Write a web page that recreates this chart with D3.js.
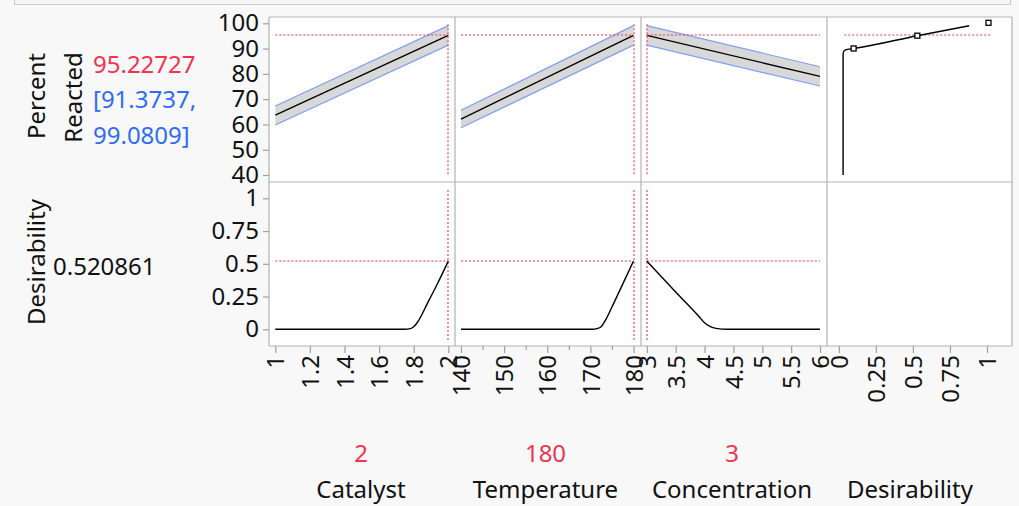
<!DOCTYPE html>
<html>
<head>
<meta charset="utf-8">
<script src="https://cdn.jsdelivr.net/npm/d3@7"></script>
<style>
  html, body { margin: 0; padding: 0; background: #f8f8f8; }
  svg { display: block; font-family: "Noto Sans", "Open Sans", sans-serif; }
</style>
</head>
<body>
<svg id="chart" width="1019" height="506"></svg>
<script>
// ---------------- data ----------------
const factorNames = ["Catalyst", "Temperature", "Concentration"];
const currentSettings = [2, 180, 3];
const currentSettingLabels = ["2", "180", "3"];
const responseName = ["Percent", "Reacted"];
const predictedValue = 95.22727;
const predictedLabel = "95.22727";
const ciLabels = ["[91.3737,", "99.0809]"];
const desirabilityValue = 0.520861;
const desirabilityLabel = "0.520861";

// prediction traces: [x, predicted, lower, upper]
const catalystTrace = [[1, 63.7, 59.8, 67.3], [2, 95.22727, 91.3737, 99.0809]];
const temperatureTrace = [[140, 62.1, 58.7, 65.6], [180, 95.22727, 91.3737, 99.0809]];
const concentrationTrace = [[3, 95.22727, 91.3737, 99.0809], [6, 79.0, 75.2, 82.8]];

// desirability traces: [x, desirability]
const catalystDesir = [[1, 0], [1.75, 0], [1.78, 0.005], [1.80, 0.02], [1.82, 0.05], [1.88, 0.2], [1.94, 0.355], [2, 0.520861]];
const temperatureDesir = [[140, 0], [170.5, 0], [171.5, 0.005], [172.5, 0.02], [173.5, 0.07], [175, 0.17], [177.5, 0.345], [180, 0.520861]];
const concentrationDesir = [[3, 0.520861], [3.5, 0.285], [3.9, 0.1], [4.0, 0.05], [4.1, 0.02], [4.2, 0.007], [4.4, 0], [6, 0]];

// desirability function of Percent Reacted: [desirability, response]
const desirFunction = [[0.029, 40], [0.029, 87.6], [0.033, 88.9], [0.05, 89.6], [0.1, 90.05], [0.53, 95.1], [0.88, 99.05]];
const desirHandles = [[0.1, 90.05], [0.53, 95.1], [1.01, 100.2]];

// ticks
const responseTicks = [40, 50, 60, 70, 80, 90, 100];
const desirTicks = [0, 0.25, 0.5, 0.75, 1];
const desirTickLabels = ["0", "0.25", "0.5", "0.75", "1"];
const catalystTicks = [1, 1.2, 1.4, 1.6, 1.8, 2];
const temperatureTicks = [140, 150, 160, 170, 180];
const temperatureMinorTicks = [145, 155, 165, 175];
const concentrationTicks = [3, 3.5, 4, 4.5, 5, 5.5, 6];
const desirXTicks = [0, 0.25, 0.5, 0.75, 1];

// ---------------- layout ----------------
const svg = d3.select("#chart");
const colX = [269, 455, 641, 827, 1012];
const rowY = [17, 182, 346];
const RED = "#f2334f", BLUE = "#2f6cf5", BANDEDGE = "#7f9ff0", GRID = "#b3b3b3", TXT = "#111";
const FS = 24;
const px = v => Math.round(v);   // straddle two pixels so the dotted red stays visibly red

// top frame
svg.append("rect").attr("x", 14.5).attr("y", -6).attr("width", 996).attr("height", 10.5)
  .attr("fill", "#f6f6f6").attr("stroke", "#c9c9c9");

// scales
const yResp = d3.scaleLinear().domain([40, 100]).range([175, 23.3]);
const yDes = d3.scaleLinear().domain([0, 1]).range([329.3, 198.3]);
const xScales = [
  d3.scaleLinear().domain([1, 2]).range([275.3, 448.3]),
  d3.scaleLinear().domain([140, 180]).range([461, 633.5]),
  d3.scaleLinear().domain([3, 6]).range([646.8, 820]),
  d3.scaleLinear().domain([0, 1]).range([838.8, 987])
];

// panels background
for (let c = 0; c < 4; c++) {
  for (let r = 0; r < 2; r++) {
    svg.append("rect").attr("x", colX[c]).attr("y", rowY[r])
      .attr("width", colX[c + 1] - colX[c]).attr("height", rowY[r + 1] - rowY[r])
      .attr("fill", "#fff").attr("stroke", "none");
  }
}

const traces = [catalystTrace, temperatureTrace, concentrationTrace];
const desTraces = [catalystDesir, temperatureDesir, concentrationDesir];

function redLine(x1, x2, y1, y2) {
  svg.append("line").attr("x1", x1).attr("x2", x2).attr("y1", y1).attr("y2", y2)
    .attr("stroke", RED).attr("stroke-width", 1.1).attr("stroke-dasharray", "2,2");
}

// prediction bands and lines
traces.forEach((tr, i) => {
  const x = xScales[i];
  const g = svg.append("g");
  g.append("path").datum(tr)
    .attr("d", d3.area().x(d => x(d[0])).y0(d => yResp(d[2])).y1(d => yResp(d[3])))
    .attr("fill", "#d8d8d8");
  [2, 3].forEach(k => g.append("path").datum(tr)
    .attr("d", d3.line().x(d => x(d[0])).y(d => yResp(d[k])))
    .attr("fill", "none").attr("stroke", BANDEDGE).attr("stroke-width", 1.2));
  g.append("path").datum(tr)
    .attr("d", d3.line().x(d => x(d[0])).y(d => yResp(d[1])))
    .attr("fill", "none").attr("stroke", "#000").attr("stroke-width", 1.4);
  const xd = x.domain();
  const yy = px(yResp(predictedValue));
  redLine(x(xd[0]), x(xd[1]), yy, yy);
  const xx = px(x(currentSettings[i]));
  redLine(xx, xx, yResp(99.6), yResp(40));
});

// desirability traces
desTraces.forEach((tr, i) => {
  const x = xScales[i];
  const xd = x.domain();
  const yy = px(yDes(desirabilityValue));
  redLine(x(xd[0]), x(xd[1]), yy, yy);
  const xx = px(x(currentSettings[i]));
  redLine(xx, xx, yDes(1.063), yDes(-0.095));
  svg.append("path").datum(tr)
    .attr("d", d3.line().curve(d3.curveMonotoneX).x(d => x(d[0])).y(d => yDes(d[1])))
    .attr("fill", "none").attr("stroke", "#000").attr("stroke-width", 1.4);
});

// desirability function panel
{
  const x = xScales[3];
  const yy = px(yResp(predictedValue));
  redLine(x(0.037), x(1.03), yy, yy);
  svg.append("path").datum(desirFunction)
    .attr("d", d3.line().curve(d3.curveMonotoneY).x(d => x(d[0])).y(d => yResp(d[1])))
    .attr("fill", "none").attr("stroke", "#000").attr("stroke-width", 1.4);
  svg.selectAll(".handle").data(desirHandles).enter().append("rect")
    .attr("x", d => x(d[0]) - 2.5).attr("y", d => yResp(d[1]) - 2.5)
    .attr("width", 5).attr("height", 5)
    .attr("fill", "#fff").attr("stroke", "#000").attr("stroke-width", 1.3);
}

// grid borders
const gridG = svg.append("g").attr("stroke", GRID).attr("stroke-width", 1.2).attr("fill", "none");
colX.forEach(cx => gridG.append("line").attr("x1", cx).attr("x2", cx).attr("y1", rowY[0]).attr("y2", rowY[2]));
rowY.forEach(ry => gridG.append("line").attr("x1", colX[0]).attr("x2", colX[4]).attr("y1", ry).attr("y2", ry));

// y axes
function styleAxis(g) {
  g.select(".domain").remove();
  g.selectAll(".tick line").attr("stroke", "#a0a0a0").attr("stroke-width", 1.2);
  g.selectAll(".tick text").attr("fill", TXT).style("font-size", FS + "px")
    .style("font-family", "'Noto Sans', sans-serif");
}
svg.append("g").attr("transform", `translate(${colX[0]},0)`)
  .call(d3.axisLeft(yResp).tickValues(responseTicks).tickFormat(d3.format("d")).tickSize(6).tickPadding(4))
  .call(styleAxis);
svg.append("g").attr("transform", `translate(${colX[0]},0)`)
  .call(d3.axisLeft(yDes).tickValues(desirTicks).tickFormat((d, i) => desirTickLabels[i]).tickSize(6).tickPadding(4))
  .call(styleAxis);

// x axes
const xTickSets = [catalystTicks, temperatureTicks, concentrationTicks, desirXTicks];
xTickSets.forEach((ticks, i) => {
  const g = svg.append("g").attr("transform", `translate(0,${rowY[2]})`)
    .call(d3.axisBottom(xScales[i]).tickValues(ticks).tickFormat(d => String(d)).tickSize(7).tickPadding(3))
    .call(styleAxis);
  g.selectAll(".tick text")
    .attr("transform", "rotate(-90)")
    .attr("x", -9).attr("y", 0).attr("dy", "0.36em")
    .style("text-anchor", "end");
});
svg.append("g").attr("transform", `translate(0,${rowY[2]})`)
  .call(d3.axisBottom(xScales[1]).tickValues(temperatureMinorTicks).tickFormat("").tickSize(4))
  .call(styleAxis);

// left labels
const txt = (x, y, s, color, rot, anchor) => {
  const t = svg.append("text").attr("fill", color || TXT).style("font-size", FS + "px")
    .attr("text-anchor", anchor || "start").text(s);
  if (rot) t.attr("transform", `translate(${x},${y}) rotate(-90)`);
  else t.attr("x", x).attr("y", y);
  return t;
};
txt(45, 96, responseName[0], TXT, true, "middle");
txt(81.5, 97.5, responseName[1], TXT, true, "middle");
txt(93, 73.3, predictedLabel, RED);
txt(93, 108.3, ciLabels[0], BLUE);
txt(93, 143.5, ciLabels[1], BLUE);
txt(45, 262, "Desirability", TXT, true, "middle");
txt(53, 275, desirabilityLabel, TXT);

// bottom labels
const bottomCenters = [361, 545.5, 732];
factorNames.forEach((n, i) => {
  txt(bottomCenters[i], 461.5, currentSettingLabels[i], RED, false, "middle");
  txt(bottomCenters[i], 498, n, TXT, false, "middle");
});
txt(910, 498, "Desirability", TXT, false, "middle");
</script>
</body>
</html>
